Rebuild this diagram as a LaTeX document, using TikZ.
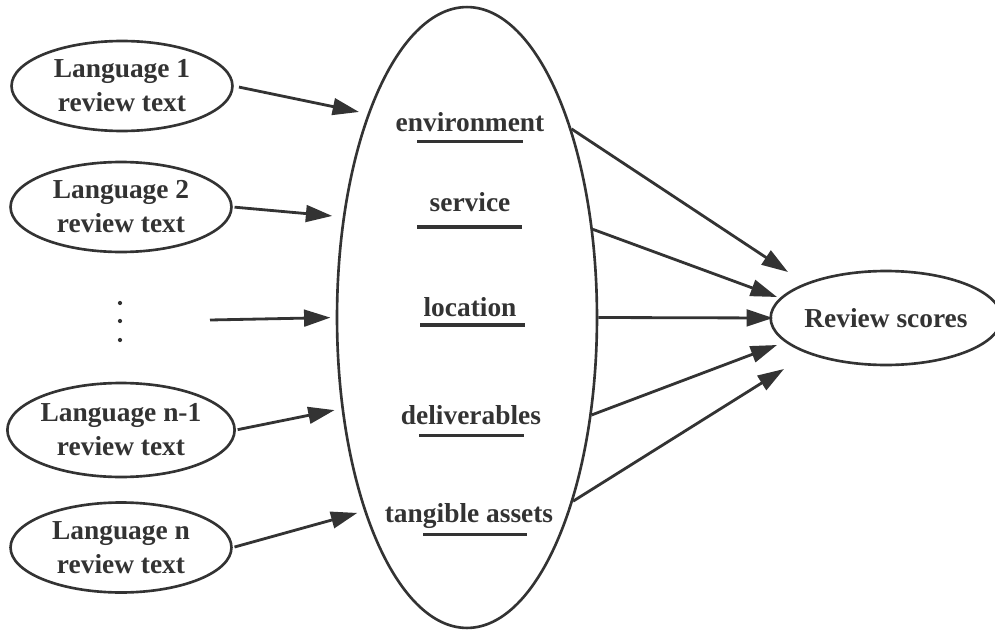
\documentclass[tikz,border=0pt]{standalone}
\usepackage{fontspec}
\setmainfont{Liberation Serif}
\usepackage{tikz}
\usetikzlibrary{arrows.meta,shapes.geometric}
\definecolor{ink}{HTML}{333333}

\begin{document}
\begin{tikzpicture}[x=0.02cm,y=-0.02cm,
    every node/.style={font=\fontsize{15.6}{19.3}\selectfont\bfseries,text=ink},
    lang/.style={draw=ink,ellipse,line width=1.5pt,inner sep=0pt,align=center,
      minimum width=4.42cm,minimum height=1.8cm},
    feed/.style={draw=ink,line width=1.6pt,-{Triangle[length=15pt,width=9.5pt]}},
    rule/.style={draw=ink,line width=1.8pt}]
    \useasboundingbox (0,0) rectangle (995,632);
    % Input reviews
    \node[lang] (lang1) at (122,86) {Language 1\\review text};
    \node[lang] (lang2) at (121,207) {Language 2\\review text};
    \node[lang,minimum height=1.88cm] (langm) at (121,430) {Language n-1\\review text};
    \node[lang] (langn) at (121,547.5) {Language n\\review text};
    \coordinate (dots) at (120,321);
    \foreach \y in {-18,0,19}
      \fill[ink] (dots) ++(0,\y) circle (1.2pt);
    \coordinate (gap) at (210,320);
    % Aspect ellipse
    \node[draw=ink,ellipse,line width=1.5pt,inner sep=0pt,
      minimum width=5.2cm,minimum height=12.42cm] (hub) at (467,317.5) {};
    \node[anchor=base] (env) at (470,131) {environment};
    \node[anchor=base] (serv) at (470,211) {service};
    \node[anchor=base] (loc) at (470,316.7) {location};
    \node[anchor=base] (deliv) at (471,424) {deliverables};
    \node[anchor=base] (tang) at (469,522) {tangible assets};
    \foreach \y/\a/\b in {141.7/417/523, 227/417/522, 325/420/525, 435.7/419/524, 534.3/423/527}
      \draw[rule] (\a,\y) -- (\b,\y);
    % Output
    \node[lang,minimum width=4.28cm,minimum height=1.88cm] (score) at (886,318) {Review scores};
    \coordinate (sc1) at (788,272);
    \coordinate (sc2) at (777,297);
    \coordinate (sc3) at (773,318);
    \coordinate (sc4) at (777,345);
    \coordinate (sc5) at (784,369);
    % Arrows in
    \draw[feed,shorten <=3pt,shorten >=5pt] (lang1.east) -- (hub.116);
    \draw[feed,shorten <=1pt,shorten >=6pt] (lang2.east) -- (hub.141);
    \draw[feed,shorten >=3pt] (gap) -- (hub.west);
    \draw[feed,shorten <=1pt,shorten >=4pt] (langm.east) -- (hub.-144);
    \draw[feed,shorten <=1pt,shorten >=4pt] (langn.east) -- (hub.-118);
    % Arrows out
    \draw[feed] (hub.61) -- (sc1);
    \draw[feed] (hub.35) -- (sc2);
    \draw[feed] (hub.east) -- (sc3);
    \draw[feed] (hub.-38) -- (sc4);
    \draw[feed] (hub.-60) -- (sc5);
\end{tikzpicture}
\end{document}
